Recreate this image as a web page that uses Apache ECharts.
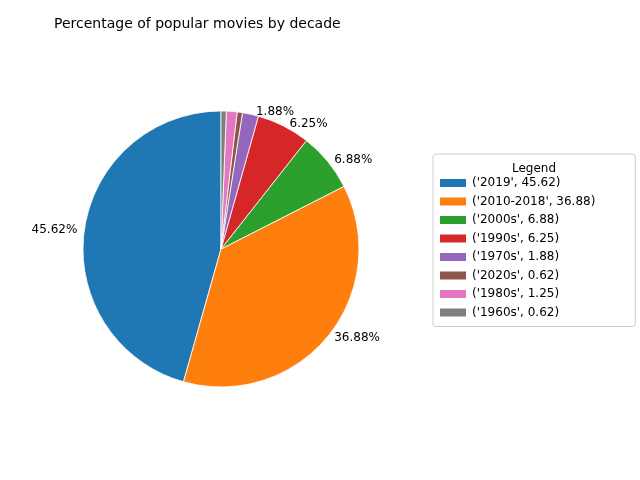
<!DOCTYPE html>
<html>
<head>
<meta charset="utf-8">
<script src="https://cdn.jsdelivr.net/npm/echarts@6/dist/echarts.min.js"></script>
<style>html,body{margin:0;padding:0;background:#fff}#c{width:640px;height:480px}</style>
</head>
<body>
<div id="c"></div>
<script>
var decades = ['2019', '2010-2018', '2000s', '1990s', '1970s', '2020s', '1980s', '1960s'];
var percents = [45.62, 36.88, 6.88, 6.25, 1.88, 0.62, 1.25, 0.62];
var colors = ['#1f77b4', '#ff7f0e', '#2ca02c', '#d62728', '#9467bd', '#8c564b', '#e377c2', '#7f7f7f'];

var chart = echarts.init(document.getElementById('c'));
var data = decades.map(function (d, i) {
  return { name: d, value: percents[i], itemStyle: { color: colors[i] } };
});
chart.setOption({
  animation: false,
  textStyle: { fontFamily: 'DejaVu Sans' },
  title: [{
    text: 'Percentage of popular movies by decade',
    left: 49, top: 12,
    textStyle: { fontSize: 14, fontWeight: 'normal', color: '#000', fontFamily: 'DejaVu Sans' }
  }, {
    text: 'Legend',
    left: 529, top: 158, textAlign: 'center',
    textStyle: { fontSize: 12, fontWeight: 'normal', color: '#000', fontFamily: 'DejaVu Sans' }
  }],
  legend: {
    orient: 'vertical',
    left: 433, top: 154,
    width: 192,
    padding: [23, 40, 8, 5],
    itemGap: 6.5,
    itemWidth: 28, itemHeight: 10,
    borderColor: '#ccc', borderWidth: 1, borderRadius: 3,
    icon: 'rect',
    textStyle: { fontSize: 12, color: '#000', fontFamily: 'DejaVu Sans' },
    formatter: function (name) {
      var i = decades.indexOf(name);
      return "('" + name + "', " + percents[i] + ")";
    },
    data: decades
  },
  series: [{
    type: 'pie',
    center: [221, 249],
    radius: 138,
    startAngle: 90,
    clockwise: false,
    avoidLabelOverlap: false,
    itemStyle: { borderColor: '#fff', borderWidth: 0.8 },
    label: {
      position: 'outside',
      color: '#000', fontSize: 12, fontFamily: 'DejaVu Sans',
      formatter: function (p) { return p.value.toFixed(2) + '%'; }
    },
    labelLine: { show: false, length: 2, length2: 0 },
    emphasis: { disabled: true },
    data: data
  }]
});
</script>
</body>
</html>
